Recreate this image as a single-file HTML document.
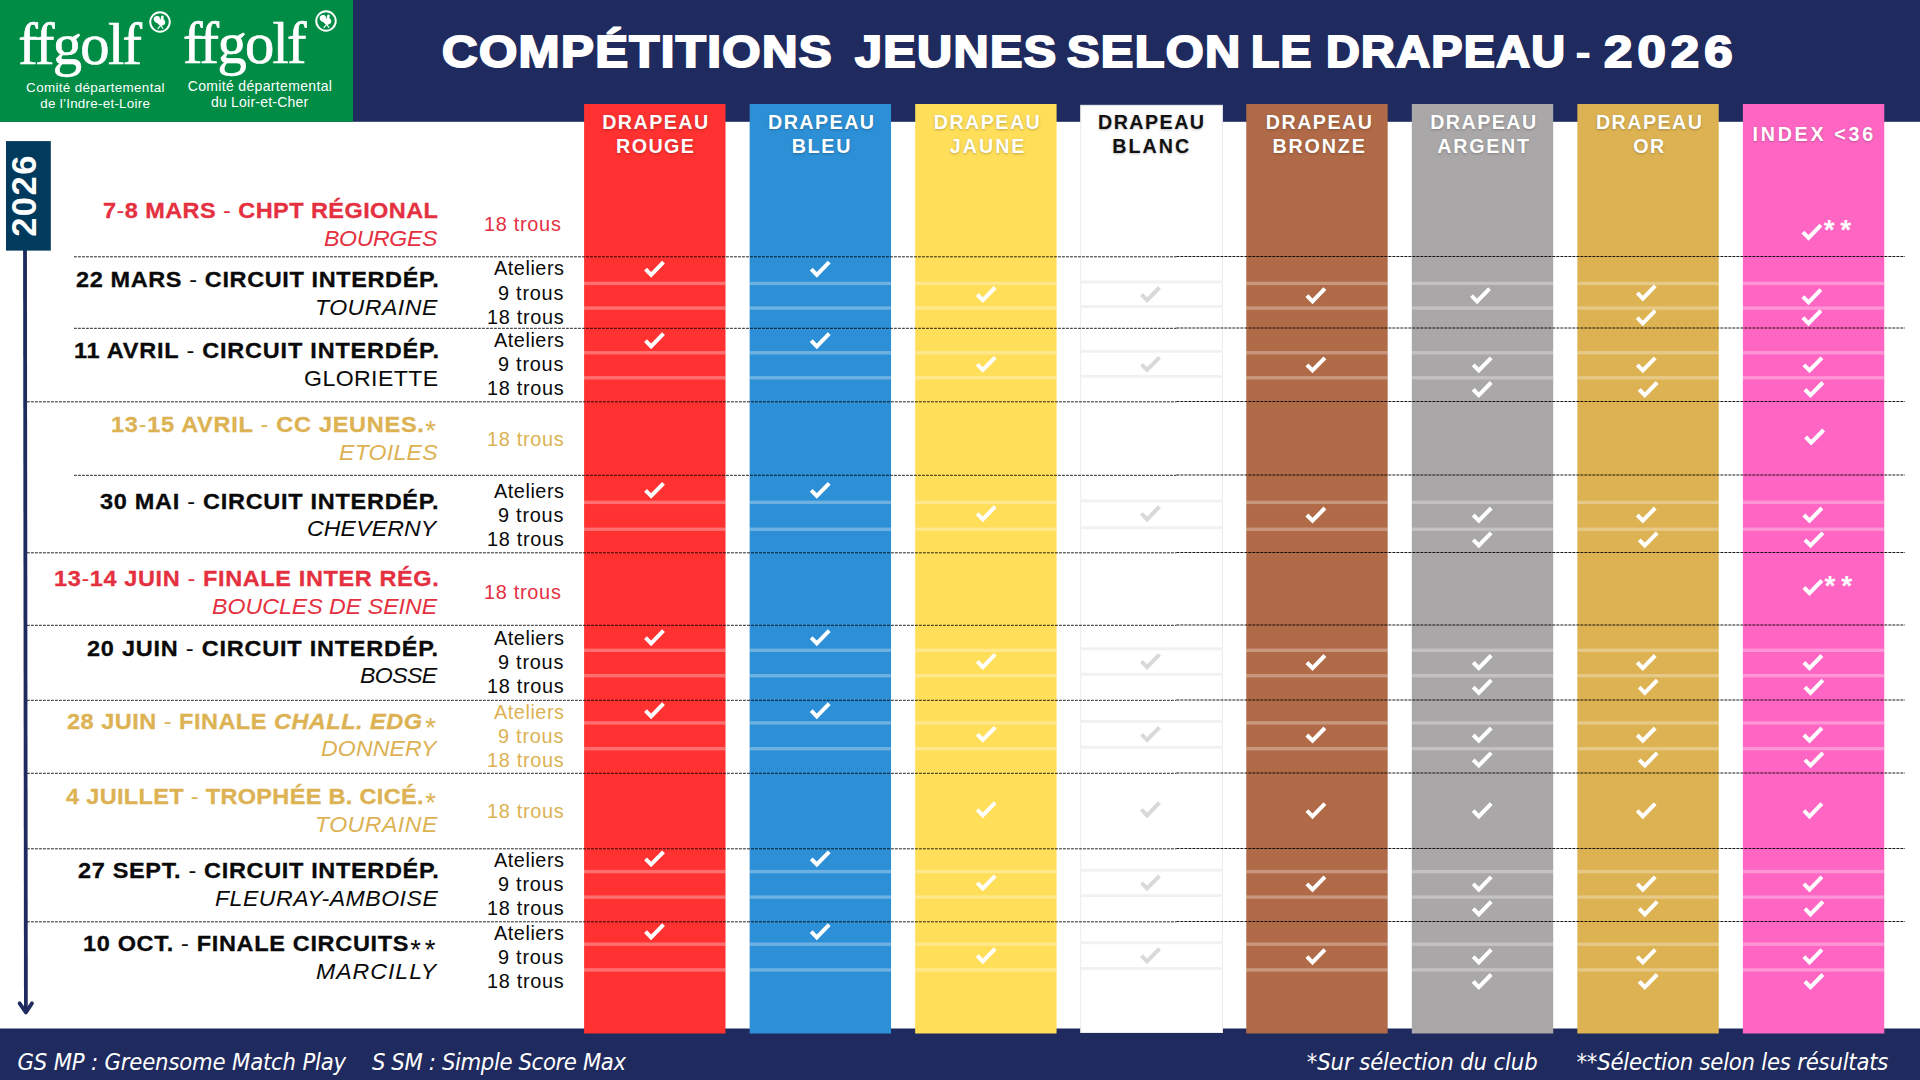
<!DOCTYPE html>
<html lang="fr"><head><meta charset="utf-8"><title>Compétitions jeunes selon le drapeau - 2026</title>
<style>
html,body{margin:0;padding:0;background:#fff;}
body{width:1920px;height:1080px;position:relative;overflow:hidden;font-family:"Liberation Sans",sans-serif;}
.t{position:absolute;white-space:nowrap;line-height:1;transform-origin:0 50%;}
.abs{position:absolute;}
.th{font-weight:400;-webkit-text-stroke:0;}
.col{position:absolute;top:104px;height:929.5px;width:141.4px;}
.hl{position:absolute;height:3.4px;left:0;right:0;background:rgba(255,255,255,0.30);}
.hd{text-shadow:0 1px 2.5px rgba(0,0,0,0.25);}
</style></head><body>

<svg class="abs" style="left:0;top:0" width="1920" height="1080" viewBox="0 0 1920 1080">
<rect x="0" y="0" width="1920" height="121.8" fill="#1f2a5e"/>
<rect x="0" y="0" width="353" height="121.8" fill="#008c45"/>
<rect x="0" y="1028.5" width="1920" height="52" fill="#1f2a5e"/>
<rect x="584.10" y="104" width="141.4" height="929.5" fill="#ff3131"/>
<rect x="584.10" y="281.70" width="141.4" height="3.4" fill="#fff" fill-opacity="0.30"/>
<rect x="584.10" y="306.40" width="141.4" height="3.4" fill="#fff" fill-opacity="0.30"/>
<rect x="584.10" y="351.05" width="141.4" height="3.4" fill="#fff" fill-opacity="0.30"/>
<rect x="584.10" y="376.10" width="141.4" height="3.4" fill="#fff" fill-opacity="0.30"/>
<rect x="584.10" y="500.65" width="141.4" height="3.4" fill="#fff" fill-opacity="0.30"/>
<rect x="584.10" y="527.55" width="141.4" height="3.4" fill="#fff" fill-opacity="0.30"/>
<rect x="584.10" y="648.60" width="141.4" height="3.4" fill="#fff" fill-opacity="0.30"/>
<rect x="584.10" y="674.00" width="141.4" height="3.4" fill="#fff" fill-opacity="0.30"/>
<rect x="584.10" y="721.20" width="141.4" height="3.4" fill="#fff" fill-opacity="0.30"/>
<rect x="584.10" y="747.00" width="141.4" height="3.4" fill="#fff" fill-opacity="0.30"/>
<rect x="584.10" y="869.90" width="141.4" height="3.4" fill="#fff" fill-opacity="0.30"/>
<rect x="584.10" y="895.40" width="141.4" height="3.4" fill="#fff" fill-opacity="0.30"/>
<rect x="584.10" y="942.50" width="141.4" height="3.4" fill="#fff" fill-opacity="0.30"/>
<rect x="584.10" y="968.20" width="141.4" height="3.4" fill="#fff" fill-opacity="0.30"/>
<rect x="749.64" y="104" width="141.4" height="929.5" fill="#2d90d6"/>
<rect x="749.64" y="281.70" width="141.4" height="3.4" fill="#fff" fill-opacity="0.30"/>
<rect x="749.64" y="306.40" width="141.4" height="3.4" fill="#fff" fill-opacity="0.30"/>
<rect x="749.64" y="351.05" width="141.4" height="3.4" fill="#fff" fill-opacity="0.30"/>
<rect x="749.64" y="376.10" width="141.4" height="3.4" fill="#fff" fill-opacity="0.30"/>
<rect x="749.64" y="500.65" width="141.4" height="3.4" fill="#fff" fill-opacity="0.30"/>
<rect x="749.64" y="527.55" width="141.4" height="3.4" fill="#fff" fill-opacity="0.30"/>
<rect x="749.64" y="648.60" width="141.4" height="3.4" fill="#fff" fill-opacity="0.30"/>
<rect x="749.64" y="674.00" width="141.4" height="3.4" fill="#fff" fill-opacity="0.30"/>
<rect x="749.64" y="721.20" width="141.4" height="3.4" fill="#fff" fill-opacity="0.30"/>
<rect x="749.64" y="747.00" width="141.4" height="3.4" fill="#fff" fill-opacity="0.30"/>
<rect x="749.64" y="869.90" width="141.4" height="3.4" fill="#fff" fill-opacity="0.30"/>
<rect x="749.64" y="895.40" width="141.4" height="3.4" fill="#fff" fill-opacity="0.30"/>
<rect x="749.64" y="942.50" width="141.4" height="3.4" fill="#fff" fill-opacity="0.30"/>
<rect x="749.64" y="968.20" width="141.4" height="3.4" fill="#fff" fill-opacity="0.30"/>
<rect x="915.18" y="104" width="141.4" height="929.5" fill="#ffde59"/>
<rect x="915.18" y="281.70" width="141.4" height="3.4" fill="#fff" fill-opacity="0.30"/>
<rect x="915.18" y="306.40" width="141.4" height="3.4" fill="#fff" fill-opacity="0.30"/>
<rect x="915.18" y="351.05" width="141.4" height="3.4" fill="#fff" fill-opacity="0.30"/>
<rect x="915.18" y="376.10" width="141.4" height="3.4" fill="#fff" fill-opacity="0.30"/>
<rect x="915.18" y="500.65" width="141.4" height="3.4" fill="#fff" fill-opacity="0.30"/>
<rect x="915.18" y="527.55" width="141.4" height="3.4" fill="#fff" fill-opacity="0.30"/>
<rect x="915.18" y="648.60" width="141.4" height="3.4" fill="#fff" fill-opacity="0.30"/>
<rect x="915.18" y="674.00" width="141.4" height="3.4" fill="#fff" fill-opacity="0.30"/>
<rect x="915.18" y="721.20" width="141.4" height="3.4" fill="#fff" fill-opacity="0.30"/>
<rect x="915.18" y="747.00" width="141.4" height="3.4" fill="#fff" fill-opacity="0.30"/>
<rect x="915.18" y="869.90" width="141.4" height="3.4" fill="#fff" fill-opacity="0.30"/>
<rect x="915.18" y="895.40" width="141.4" height="3.4" fill="#fff" fill-opacity="0.30"/>
<rect x="915.18" y="942.50" width="141.4" height="3.4" fill="#fff" fill-opacity="0.30"/>
<rect x="915.18" y="968.20" width="141.4" height="3.4" fill="#fff" fill-opacity="0.30"/>
<rect x="1080.7" y="105.3" width="141.7" height="927.2" fill="#fff" stroke="#ececec" stroke-width="1"/>
<rect x="1080.4" y="280.50" width="142.3" height="2.9" fill="#f1f1f1"/>
<rect x="1080.4" y="305.20" width="142.3" height="2.9" fill="#f1f1f1"/>
<rect x="1080.4" y="349.85" width="142.3" height="2.9" fill="#f1f1f1"/>
<rect x="1080.4" y="374.90" width="142.3" height="2.9" fill="#f1f1f1"/>
<rect x="1080.4" y="499.45" width="142.3" height="2.9" fill="#f1f1f1"/>
<rect x="1080.4" y="526.35" width="142.3" height="2.9" fill="#f1f1f1"/>
<rect x="1080.4" y="647.40" width="142.3" height="2.9" fill="#f1f1f1"/>
<rect x="1080.4" y="672.80" width="142.3" height="2.9" fill="#f1f1f1"/>
<rect x="1080.4" y="720.00" width="142.3" height="2.9" fill="#f1f1f1"/>
<rect x="1080.4" y="745.80" width="142.3" height="2.9" fill="#f1f1f1"/>
<rect x="1080.4" y="868.70" width="142.3" height="2.9" fill="#f1f1f1"/>
<rect x="1080.4" y="894.20" width="142.3" height="2.9" fill="#f1f1f1"/>
<rect x="1080.4" y="941.30" width="142.3" height="2.9" fill="#f1f1f1"/>
<rect x="1080.4" y="967.00" width="142.3" height="2.9" fill="#f1f1f1"/>
<rect x="1246.26" y="104" width="141.4" height="929.5" fill="#b06a47"/>
<rect x="1246.26" y="281.70" width="141.4" height="3.4" fill="#fff" fill-opacity="0.30"/>
<rect x="1246.26" y="306.40" width="141.4" height="3.4" fill="#fff" fill-opacity="0.30"/>
<rect x="1246.26" y="351.05" width="141.4" height="3.4" fill="#fff" fill-opacity="0.30"/>
<rect x="1246.26" y="376.10" width="141.4" height="3.4" fill="#fff" fill-opacity="0.30"/>
<rect x="1246.26" y="500.65" width="141.4" height="3.4" fill="#fff" fill-opacity="0.30"/>
<rect x="1246.26" y="527.55" width="141.4" height="3.4" fill="#fff" fill-opacity="0.30"/>
<rect x="1246.26" y="648.60" width="141.4" height="3.4" fill="#fff" fill-opacity="0.30"/>
<rect x="1246.26" y="674.00" width="141.4" height="3.4" fill="#fff" fill-opacity="0.30"/>
<rect x="1246.26" y="721.20" width="141.4" height="3.4" fill="#fff" fill-opacity="0.30"/>
<rect x="1246.26" y="747.00" width="141.4" height="3.4" fill="#fff" fill-opacity="0.30"/>
<rect x="1246.26" y="869.90" width="141.4" height="3.4" fill="#fff" fill-opacity="0.30"/>
<rect x="1246.26" y="895.40" width="141.4" height="3.4" fill="#fff" fill-opacity="0.30"/>
<rect x="1246.26" y="942.50" width="141.4" height="3.4" fill="#fff" fill-opacity="0.30"/>
<rect x="1246.26" y="968.20" width="141.4" height="3.4" fill="#fff" fill-opacity="0.30"/>
<rect x="1411.80" y="104" width="141.4" height="929.5" fill="#a9a7a8"/>
<rect x="1411.80" y="281.70" width="141.4" height="3.4" fill="#fff" fill-opacity="0.30"/>
<rect x="1411.80" y="306.40" width="141.4" height="3.4" fill="#fff" fill-opacity="0.30"/>
<rect x="1411.80" y="351.05" width="141.4" height="3.4" fill="#fff" fill-opacity="0.30"/>
<rect x="1411.80" y="376.10" width="141.4" height="3.4" fill="#fff" fill-opacity="0.30"/>
<rect x="1411.80" y="500.65" width="141.4" height="3.4" fill="#fff" fill-opacity="0.30"/>
<rect x="1411.80" y="527.55" width="141.4" height="3.4" fill="#fff" fill-opacity="0.30"/>
<rect x="1411.80" y="648.60" width="141.4" height="3.4" fill="#fff" fill-opacity="0.30"/>
<rect x="1411.80" y="674.00" width="141.4" height="3.4" fill="#fff" fill-opacity="0.30"/>
<rect x="1411.80" y="721.20" width="141.4" height="3.4" fill="#fff" fill-opacity="0.30"/>
<rect x="1411.80" y="747.00" width="141.4" height="3.4" fill="#fff" fill-opacity="0.30"/>
<rect x="1411.80" y="869.90" width="141.4" height="3.4" fill="#fff" fill-opacity="0.30"/>
<rect x="1411.80" y="895.40" width="141.4" height="3.4" fill="#fff" fill-opacity="0.30"/>
<rect x="1411.80" y="942.50" width="141.4" height="3.4" fill="#fff" fill-opacity="0.30"/>
<rect x="1411.80" y="968.20" width="141.4" height="3.4" fill="#fff" fill-opacity="0.30"/>
<rect x="1577.34" y="104" width="141.4" height="929.5" fill="#dcb253"/>
<rect x="1577.34" y="281.70" width="141.4" height="3.4" fill="#fff" fill-opacity="0.30"/>
<rect x="1577.34" y="306.40" width="141.4" height="3.4" fill="#fff" fill-opacity="0.30"/>
<rect x="1577.34" y="351.05" width="141.4" height="3.4" fill="#fff" fill-opacity="0.30"/>
<rect x="1577.34" y="376.10" width="141.4" height="3.4" fill="#fff" fill-opacity="0.30"/>
<rect x="1577.34" y="500.65" width="141.4" height="3.4" fill="#fff" fill-opacity="0.30"/>
<rect x="1577.34" y="527.55" width="141.4" height="3.4" fill="#fff" fill-opacity="0.30"/>
<rect x="1577.34" y="648.60" width="141.4" height="3.4" fill="#fff" fill-opacity="0.30"/>
<rect x="1577.34" y="674.00" width="141.4" height="3.4" fill="#fff" fill-opacity="0.30"/>
<rect x="1577.34" y="721.20" width="141.4" height="3.4" fill="#fff" fill-opacity="0.30"/>
<rect x="1577.34" y="747.00" width="141.4" height="3.4" fill="#fff" fill-opacity="0.30"/>
<rect x="1577.34" y="869.90" width="141.4" height="3.4" fill="#fff" fill-opacity="0.30"/>
<rect x="1577.34" y="895.40" width="141.4" height="3.4" fill="#fff" fill-opacity="0.30"/>
<rect x="1577.34" y="942.50" width="141.4" height="3.4" fill="#fff" fill-opacity="0.30"/>
<rect x="1577.34" y="968.20" width="141.4" height="3.4" fill="#fff" fill-opacity="0.30"/>
<rect x="1742.88" y="104" width="141.4" height="929.5" fill="#ff66c4"/>
<rect x="1742.88" y="281.70" width="141.4" height="3.4" fill="#fff" fill-opacity="0.30"/>
<rect x="1742.88" y="306.40" width="141.4" height="3.4" fill="#fff" fill-opacity="0.30"/>
<rect x="1742.88" y="351.05" width="141.4" height="3.4" fill="#fff" fill-opacity="0.30"/>
<rect x="1742.88" y="376.10" width="141.4" height="3.4" fill="#fff" fill-opacity="0.30"/>
<rect x="1742.88" y="500.65" width="141.4" height="3.4" fill="#fff" fill-opacity="0.30"/>
<rect x="1742.88" y="527.55" width="141.4" height="3.4" fill="#fff" fill-opacity="0.30"/>
<rect x="1742.88" y="648.60" width="141.4" height="3.4" fill="#fff" fill-opacity="0.30"/>
<rect x="1742.88" y="674.00" width="141.4" height="3.4" fill="#fff" fill-opacity="0.30"/>
<rect x="1742.88" y="721.20" width="141.4" height="3.4" fill="#fff" fill-opacity="0.30"/>
<rect x="1742.88" y="747.00" width="141.4" height="3.4" fill="#fff" fill-opacity="0.30"/>
<rect x="1742.88" y="869.90" width="141.4" height="3.4" fill="#fff" fill-opacity="0.30"/>
<rect x="1742.88" y="895.40" width="141.4" height="3.4" fill="#fff" fill-opacity="0.30"/>
<rect x="1742.88" y="942.50" width="141.4" height="3.4" fill="#fff" fill-opacity="0.30"/>
<rect x="1742.88" y="968.20" width="141.4" height="3.4" fill="#fff" fill-opacity="0.30"/>
<line x1="74" y1="256.8" x2="1176.4" y2="256.8" stroke="#000" stroke-opacity="0.85" stroke-width="1" stroke-dasharray="2.9 1.1"/>
<line x1="1176.4" y1="256.5" x2="1905" y2="256.5" stroke="#000" stroke-opacity="0.9" stroke-width="1" stroke-dasharray="2.9 1.1"/>
<line x1="74" y1="328.3" x2="1176.4" y2="328.3" stroke="#000" stroke-opacity="0.85" stroke-width="1" stroke-dasharray="2.9 1.1"/>
<line x1="1176.4" y1="328.0" x2="1905" y2="328.0" stroke="#000" stroke-opacity="0.9" stroke-width="1" stroke-dasharray="2.9 1.1"/>
<line x1="27" y1="401.8" x2="1176.4" y2="401.8" stroke="#000" stroke-opacity="0.85" stroke-width="1" stroke-dasharray="2.9 1.1"/>
<line x1="1176.4" y1="401.5" x2="1905" y2="401.5" stroke="#000" stroke-opacity="0.9" stroke-width="1" stroke-dasharray="2.9 1.1"/>
<line x1="74" y1="475.3" x2="1176.4" y2="475.3" stroke="#000" stroke-opacity="0.85" stroke-width="1" stroke-dasharray="2.9 1.1"/>
<line x1="1176.4" y1="475.0" x2="1905" y2="475.0" stroke="#000" stroke-opacity="0.9" stroke-width="1" stroke-dasharray="2.9 1.1"/>
<line x1="27" y1="552.8" x2="1176.4" y2="552.8" stroke="#000" stroke-opacity="0.85" stroke-width="1" stroke-dasharray="2.9 1.1"/>
<line x1="1176.4" y1="552.5" x2="1905" y2="552.5" stroke="#000" stroke-opacity="0.9" stroke-width="1" stroke-dasharray="2.9 1.1"/>
<line x1="27" y1="625.3" x2="1176.4" y2="625.3" stroke="#000" stroke-opacity="0.85" stroke-width="1" stroke-dasharray="2.9 1.1"/>
<line x1="1176.4" y1="625.0" x2="1905" y2="625.0" stroke="#000" stroke-opacity="0.9" stroke-width="1" stroke-dasharray="2.9 1.1"/>
<line x1="27" y1="700.3" x2="1176.4" y2="700.3" stroke="#000" stroke-opacity="0.85" stroke-width="1" stroke-dasharray="2.9 1.1"/>
<line x1="1176.4" y1="700.0" x2="1905" y2="700.0" stroke="#000" stroke-opacity="0.9" stroke-width="1" stroke-dasharray="2.9 1.1"/>
<line x1="27" y1="773.3" x2="1176.4" y2="773.3" stroke="#000" stroke-opacity="0.85" stroke-width="1" stroke-dasharray="2.9 1.1"/>
<line x1="1176.4" y1="773.0" x2="1905" y2="773.0" stroke="#000" stroke-opacity="0.9" stroke-width="1" stroke-dasharray="2.9 1.1"/>
<line x1="27" y1="848.8" x2="1176.4" y2="848.8" stroke="#000" stroke-opacity="0.85" stroke-width="1" stroke-dasharray="2.9 1.1"/>
<line x1="1176.4" y1="848.5" x2="1905" y2="848.5" stroke="#000" stroke-opacity="0.9" stroke-width="1" stroke-dasharray="2.9 1.1"/>
<line x1="27" y1="921.8" x2="1176.4" y2="921.8" stroke="#000" stroke-opacity="0.85" stroke-width="1" stroke-dasharray="2.9 1.1"/>
<line x1="1176.4" y1="921.5" x2="1905" y2="921.5" stroke="#000" stroke-opacity="0.9" stroke-width="1" stroke-dasharray="2.9 1.1"/>
<line x1="25" y1="250" x2="25.9" y2="1012" stroke="#1f2a5e" stroke-width="3.8"/>
<polyline points="19.6,1003.3 25.9,1012.4 32,1003.3" fill="none" stroke="#1f2a5e" stroke-width="3.8" stroke-linecap="round" stroke-linejoin="round"/>
<rect x="6" y="141.1" width="44.8" height="109.5" fill="#003a5d"/>
<polyline transform="translate(643.51,260.21)" points="2,8.9 7.6,14.6 20,1.9" fill="none" stroke="#fff" stroke-width="4"/>
<polyline transform="translate(809.21,260.21)" points="2,8.9 7.6,14.6 20,1.9" fill="none" stroke="#fff" stroke-width="4"/>
<polyline transform="translate(975.21,285.61)" points="2,8.9 7.6,14.6 20,1.9" fill="none" stroke="#fff" stroke-width="4"/>
<polyline transform="translate(1139.51,285.61)" points="2,8.9 7.6,14.6 20,1.9" fill="none" stroke="#d9d9d9" stroke-width="4"/>
<polyline transform="translate(1304.91,286.81)" points="2,8.9 7.6,14.6 20,1.9" fill="none" stroke="#fff" stroke-width="4"/>
<polyline transform="translate(1469.51,286.81)" points="2,8.9 7.6,14.6 20,1.9" fill="none" stroke="#fff" stroke-width="4"/>
<polyline transform="translate(1635.21,284.01)" points="2,8.9 7.6,14.6 20,1.9" fill="none" stroke="#fff" stroke-width="4"/>
<polyline transform="translate(1635.21,308.81)" points="2,8.9 7.6,14.6 20,1.9" fill="none" stroke="#fff" stroke-width="4"/>
<polyline transform="translate(1800.91,287.81)" points="2,8.9 7.6,14.6 20,1.9" fill="none" stroke="#fff" stroke-width="4"/>
<polyline transform="translate(1800.91,308.81)" points="2,8.9 7.6,14.6 20,1.9" fill="none" stroke="#fff" stroke-width="4"/>
<polyline transform="translate(643.51,331.71)" points="2,8.9 7.6,14.6 20,1.9" fill="none" stroke="#fff" stroke-width="4"/>
<polyline transform="translate(809.21,331.71)" points="2,8.9 7.6,14.6 20,1.9" fill="none" stroke="#fff" stroke-width="4"/>
<polyline transform="translate(975.21,355.41)" points="2,8.9 7.6,14.6 20,1.9" fill="none" stroke="#fff" stroke-width="4"/>
<polyline transform="translate(1139.51,355.41)" points="2,8.9 7.6,14.6 20,1.9" fill="none" stroke="#d9d9d9" stroke-width="4"/>
<polyline transform="translate(1304.91,355.91)" points="2,8.9 7.6,14.6 20,1.9" fill="none" stroke="#fff" stroke-width="4"/>
<polyline transform="translate(1471.21,355.91)" points="2,8.9 7.6,14.6 20,1.9" fill="none" stroke="#fff" stroke-width="4"/>
<polyline transform="translate(1471.21,380.61)" points="2,8.9 7.6,14.6 20,1.9" fill="none" stroke="#fff" stroke-width="4"/>
<polyline transform="translate(1635.21,355.91)" points="2,8.9 7.6,14.6 20,1.9" fill="none" stroke="#fff" stroke-width="4"/>
<polyline transform="translate(1637.21,380.61)" points="2,8.9 7.6,14.6 20,1.9" fill="none" stroke="#fff" stroke-width="4"/>
<polyline transform="translate(1801.91,355.91)" points="2,8.9 7.6,14.6 20,1.9" fill="none" stroke="#fff" stroke-width="4"/>
<polyline transform="translate(1802.91,380.61)" points="2,8.9 7.6,14.6 20,1.9" fill="none" stroke="#fff" stroke-width="4"/>
<polyline transform="translate(643.51,481.41)" points="2,8.9 7.6,14.6 20,1.9" fill="none" stroke="#fff" stroke-width="4"/>
<polyline transform="translate(809.21,481.41)" points="2,8.9 7.6,14.6 20,1.9" fill="none" stroke="#fff" stroke-width="4"/>
<polyline transform="translate(975.21,504.71)" points="2,8.9 7.6,14.6 20,1.9" fill="none" stroke="#fff" stroke-width="4"/>
<polyline transform="translate(1139.51,504.71)" points="2,8.9 7.6,14.6 20,1.9" fill="none" stroke="#d9d9d9" stroke-width="4"/>
<polyline transform="translate(1304.91,506.11)" points="2,8.9 7.6,14.6 20,1.9" fill="none" stroke="#fff" stroke-width="4"/>
<polyline transform="translate(1471.21,506.11)" points="2,8.9 7.6,14.6 20,1.9" fill="none" stroke="#fff" stroke-width="4"/>
<polyline transform="translate(1471.21,530.91)" points="2,8.9 7.6,14.6 20,1.9" fill="none" stroke="#fff" stroke-width="4"/>
<polyline transform="translate(1635.21,506.11)" points="2,8.9 7.6,14.6 20,1.9" fill="none" stroke="#fff" stroke-width="4"/>
<polyline transform="translate(1637.21,530.91)" points="2,8.9 7.6,14.6 20,1.9" fill="none" stroke="#fff" stroke-width="4"/>
<polyline transform="translate(1801.91,506.11)" points="2,8.9 7.6,14.6 20,1.9" fill="none" stroke="#fff" stroke-width="4"/>
<polyline transform="translate(1802.91,530.91)" points="2,8.9 7.6,14.6 20,1.9" fill="none" stroke="#fff" stroke-width="4"/>
<polyline transform="translate(643.51,628.81)" points="2,8.9 7.6,14.6 20,1.9" fill="none" stroke="#fff" stroke-width="4"/>
<polyline transform="translate(809.21,628.81)" points="2,8.9 7.6,14.6 20,1.9" fill="none" stroke="#fff" stroke-width="4"/>
<polyline transform="translate(975.21,652.51)" points="2,8.9 7.6,14.6 20,1.9" fill="none" stroke="#fff" stroke-width="4"/>
<polyline transform="translate(1139.51,652.51)" points="2,8.9 7.6,14.6 20,1.9" fill="none" stroke="#d9d9d9" stroke-width="4"/>
<polyline transform="translate(1304.91,653.61)" points="2,8.9 7.6,14.6 20,1.9" fill="none" stroke="#fff" stroke-width="4"/>
<polyline transform="translate(1471.21,653.61)" points="2,8.9 7.6,14.6 20,1.9" fill="none" stroke="#fff" stroke-width="4"/>
<polyline transform="translate(1471.21,678.31)" points="2,8.9 7.6,14.6 20,1.9" fill="none" stroke="#fff" stroke-width="4"/>
<polyline transform="translate(1635.21,653.61)" points="2,8.9 7.6,14.6 20,1.9" fill="none" stroke="#fff" stroke-width="4"/>
<polyline transform="translate(1637.21,678.31)" points="2,8.9 7.6,14.6 20,1.9" fill="none" stroke="#fff" stroke-width="4"/>
<polyline transform="translate(1801.91,653.61)" points="2,8.9 7.6,14.6 20,1.9" fill="none" stroke="#fff" stroke-width="4"/>
<polyline transform="translate(1802.91,678.31)" points="2,8.9 7.6,14.6 20,1.9" fill="none" stroke="#fff" stroke-width="4"/>
<polyline transform="translate(643.51,701.71)" points="2,8.9 7.6,14.6 20,1.9" fill="none" stroke="#fff" stroke-width="4"/>
<polyline transform="translate(809.21,701.71)" points="2,8.9 7.6,14.6 20,1.9" fill="none" stroke="#fff" stroke-width="4"/>
<polyline transform="translate(975.21,725.41)" points="2,8.9 7.6,14.6 20,1.9" fill="none" stroke="#fff" stroke-width="4"/>
<polyline transform="translate(1139.51,725.41)" points="2,8.9 7.6,14.6 20,1.9" fill="none" stroke="#d9d9d9" stroke-width="4"/>
<polyline transform="translate(1304.91,726.11)" points="2,8.9 7.6,14.6 20,1.9" fill="none" stroke="#fff" stroke-width="4"/>
<polyline transform="translate(1471.21,726.11)" points="2,8.9 7.6,14.6 20,1.9" fill="none" stroke="#fff" stroke-width="4"/>
<polyline transform="translate(1471.21,750.91)" points="2,8.9 7.6,14.6 20,1.9" fill="none" stroke="#fff" stroke-width="4"/>
<polyline transform="translate(1635.21,726.11)" points="2,8.9 7.6,14.6 20,1.9" fill="none" stroke="#fff" stroke-width="4"/>
<polyline transform="translate(1637.21,750.91)" points="2,8.9 7.6,14.6 20,1.9" fill="none" stroke="#fff" stroke-width="4"/>
<polyline transform="translate(1801.91,726.11)" points="2,8.9 7.6,14.6 20,1.9" fill="none" stroke="#fff" stroke-width="4"/>
<polyline transform="translate(1802.91,750.91)" points="2,8.9 7.6,14.6 20,1.9" fill="none" stroke="#fff" stroke-width="4"/>
<polyline transform="translate(643.51,849.91)" points="2,8.9 7.6,14.6 20,1.9" fill="none" stroke="#fff" stroke-width="4"/>
<polyline transform="translate(809.21,849.91)" points="2,8.9 7.6,14.6 20,1.9" fill="none" stroke="#fff" stroke-width="4"/>
<polyline transform="translate(975.21,873.91)" points="2,8.9 7.6,14.6 20,1.9" fill="none" stroke="#fff" stroke-width="4"/>
<polyline transform="translate(1139.51,873.91)" points="2,8.9 7.6,14.6 20,1.9" fill="none" stroke="#d9d9d9" stroke-width="4"/>
<polyline transform="translate(1304.91,875.01)" points="2,8.9 7.6,14.6 20,1.9" fill="none" stroke="#fff" stroke-width="4"/>
<polyline transform="translate(1471.21,875.01)" points="2,8.9 7.6,14.6 20,1.9" fill="none" stroke="#fff" stroke-width="4"/>
<polyline transform="translate(1471.21,899.71)" points="2,8.9 7.6,14.6 20,1.9" fill="none" stroke="#fff" stroke-width="4"/>
<polyline transform="translate(1635.21,875.01)" points="2,8.9 7.6,14.6 20,1.9" fill="none" stroke="#fff" stroke-width="4"/>
<polyline transform="translate(1637.21,899.71)" points="2,8.9 7.6,14.6 20,1.9" fill="none" stroke="#fff" stroke-width="4"/>
<polyline transform="translate(1801.91,875.01)" points="2,8.9 7.6,14.6 20,1.9" fill="none" stroke="#fff" stroke-width="4"/>
<polyline transform="translate(1802.91,899.71)" points="2,8.9 7.6,14.6 20,1.9" fill="none" stroke="#fff" stroke-width="4"/>
<polyline transform="translate(643.51,922.71)" points="2,8.9 7.6,14.6 20,1.9" fill="none" stroke="#fff" stroke-width="4"/>
<polyline transform="translate(809.21,922.71)" points="2,8.9 7.6,14.6 20,1.9" fill="none" stroke="#fff" stroke-width="4"/>
<polyline transform="translate(975.21,946.81)" points="2,8.9 7.6,14.6 20,1.9" fill="none" stroke="#fff" stroke-width="4"/>
<polyline transform="translate(1139.51,946.81)" points="2,8.9 7.6,14.6 20,1.9" fill="none" stroke="#d9d9d9" stroke-width="4"/>
<polyline transform="translate(1304.91,947.81)" points="2,8.9 7.6,14.6 20,1.9" fill="none" stroke="#fff" stroke-width="4"/>
<polyline transform="translate(1471.21,947.81)" points="2,8.9 7.6,14.6 20,1.9" fill="none" stroke="#fff" stroke-width="4"/>
<polyline transform="translate(1471.21,972.61)" points="2,8.9 7.6,14.6 20,1.9" fill="none" stroke="#fff" stroke-width="4"/>
<polyline transform="translate(1635.21,947.81)" points="2,8.9 7.6,14.6 20,1.9" fill="none" stroke="#fff" stroke-width="4"/>
<polyline transform="translate(1637.21,972.61)" points="2,8.9 7.6,14.6 20,1.9" fill="none" stroke="#fff" stroke-width="4"/>
<polyline transform="translate(1801.91,947.81)" points="2,8.9 7.6,14.6 20,1.9" fill="none" stroke="#fff" stroke-width="4"/>
<polyline transform="translate(1802.91,972.61)" points="2,8.9 7.6,14.6 20,1.9" fill="none" stroke="#fff" stroke-width="4"/>
<polyline transform="translate(1800.91,223.21)" points="2,8.9 7.6,14.6 20,1.9" fill="none" stroke="#fff" stroke-width="4"/>
<polyline transform="translate(1803.61,428.11)" points="2,8.9 7.6,14.6 20,1.9" fill="none" stroke="#fff" stroke-width="4"/>
<polyline transform="translate(1801.91,578.61)" points="2,8.9 7.6,14.6 20,1.9" fill="none" stroke="#fff" stroke-width="4"/>
<polyline transform="translate(975.21,800.71)" points="2,8.9 7.6,14.6 20,1.9" fill="none" stroke="#fff" stroke-width="4"/>
<polyline transform="translate(1139.51,800.71)" points="2,8.9 7.6,14.6 20,1.9" fill="none" stroke="#d9d9d9" stroke-width="4"/>
<polyline transform="translate(1304.91,801.71)" points="2,8.9 7.6,14.6 20,1.9" fill="none" stroke="#fff" stroke-width="4"/>
<polyline transform="translate(1471.21,801.71)" points="2,8.9 7.6,14.6 20,1.9" fill="none" stroke="#fff" stroke-width="4"/>
<polyline transform="translate(1635.21,801.71)" points="2,8.9 7.6,14.6 20,1.9" fill="none" stroke="#fff" stroke-width="4"/>
<polyline transform="translate(1801.91,801.71)" points="2,8.9 7.6,14.6 20,1.9" fill="none" stroke="#fff" stroke-width="4"/>
</svg>
<div class="t" style="left:0;top:0;transform-origin:0 0;transform:translate(36.3px,236.8px) rotate(-90deg) translate(0,-29.20px);font-size:34.5px;font-weight:700;color:#fff;letter-spacing:1.46px">2026</div>
<div class="t " style="left:441.98px;top:31.00px;font-size:43.6px;letter-spacing:1.200px;color:#fff;font-weight:700;transform:scaleX(1.1295);-webkit-text-stroke:2px #fff;">COMPÉTITIONS</div>
<div class="t " style="left:855.26px;top:31.00px;font-size:43.6px;letter-spacing:1.201px;color:#fff;font-weight:700;transform:scaleX(1.1145);-webkit-text-stroke:2px #fff;">JEUNES</div>
<div class="t " style="left:1066.90px;top:31.00px;font-size:43.6px;letter-spacing:1.201px;color:#fff;font-weight:700;transform:scaleX(1.118);-webkit-text-stroke:2px #fff;">SELON</div>
<div class="t " style="left:1251.10px;top:31.00px;font-size:43.6px;letter-spacing:1.201px;color:#fff;font-weight:700;transform:scaleX(1.0632);-webkit-text-stroke:2px #fff;">LE</div>
<div class="t " style="left:1325.87px;top:31.00px;font-size:43.6px;letter-spacing:1.201px;color:#fff;font-weight:700;transform:scaleX(1.0731);-webkit-text-stroke:2px #fff;">DRAPEAU</div>
<div class="t " style="left:1575.29px;top:31.00px;font-size:43.6px;letter-spacing:0.000px;color:#fff;font-weight:700;transform:scaleX(1.1201);">-</div>
<div class="t " style="left:1604.23px;top:31.00px;font-size:43.6px;letter-spacing:4.282px;color:#fff;font-weight:700;transform:scaleX(1.17);-webkit-text-stroke:2px #fff;">2026</div>
<div class="t hd" style="left:602.18px;top:113.00px;font-size:19.7px;letter-spacing:1.451px;color:#fff;font-weight:700;">DRAPEAU</div>
<div class="t hd" style="left:616.03px;top:137.00px;font-size:19.7px;letter-spacing:1.437px;color:#fff;font-weight:700;">ROUGE</div>
<div class="t hd" style="left:768.02px;top:113.00px;font-size:19.7px;letter-spacing:1.451px;color:#fff;font-weight:700;">DRAPEAU</div>
<div class="t hd" style="left:791.67px;top:137.00px;font-size:19.7px;letter-spacing:1.731px;color:#fff;font-weight:700;">BLEU</div>
<div class="t hd" style="left:933.76px;top:113.00px;font-size:19.7px;letter-spacing:1.451px;color:#fff;font-weight:700;">DRAPEAU</div>
<div class="t hd" style="left:949.68px;top:137.00px;font-size:19.7px;letter-spacing:2.023px;color:#fff;font-weight:700;">JAUNE</div>
<div class="t hd" style="left:1098.00px;top:113.00px;font-size:19.7px;letter-spacing:1.451px;color:#111;font-weight:700;">DRAPEAU</div>
<div class="t hd" style="left:1112.30px;top:137.00px;font-size:19.7px;letter-spacing:1.979px;color:#111;font-weight:700;">BLANC</div>
<div class="t hd" style="left:1265.84px;top:113.00px;font-size:19.7px;letter-spacing:1.451px;color:#fff;font-weight:700;">DRAPEAU</div>
<div class="t hd" style="left:1272.44px;top:137.00px;font-size:19.7px;letter-spacing:1.862px;color:#fff;font-weight:700;">BRONZE</div>
<div class="t hd" style="left:1430.18px;top:113.00px;font-size:19.7px;letter-spacing:1.451px;color:#fff;font-weight:700;">DRAPEAU</div>
<div class="t hd" style="left:1437.21px;top:137.00px;font-size:19.7px;letter-spacing:1.745px;color:#fff;font-weight:700;">ARGENT</div>
<div class="t hd" style="left:1595.92px;top:113.00px;font-size:19.7px;letter-spacing:1.451px;color:#fff;font-weight:700;">DRAPEAU</div>
<div class="t hd" style="left:1633.33px;top:137.00px;font-size:19.7px;letter-spacing:1.462px;color:#fff;font-weight:700;">OR</div>
<div class="t hd" style="left:1752.58px;top:125.00px;font-size:19.7px;letter-spacing:2.692px;color:#fff;font-weight:700;">INDEX &lt;36</div>
<div class="t " style="left:102.59px;top:200.00px;font-size:22.6px;letter-spacing:0.413px;color:#e5303f;font-weight:700;transform:scaleX(1.04);-webkit-text-stroke:0.3px currentColor;">7<span class="th">-</span>8 MARS <span class="th">-</span> CHPT RÉGIONAL</div>
<div class="t " style="left:323.69px;top:227.00px;font-size:22.9px;letter-spacing:-0.364px;color:#e5303f;font-style:italic;transform:scaleX(1.01);">BOURGES</div>
<div class="t " style="left:483.88px;top:215.00px;font-size:19.5px;letter-spacing:0.695px;color:#e5303f;transform:scaleX(1.02);">18 trous</div>
<div class="t " style="left:75.69px;top:269.00px;font-size:22.6px;letter-spacing:0.587px;color:#0a0a0a;font-weight:700;transform:scaleX(1.04);-webkit-text-stroke:0.3px currentColor;">22 MARS <span class="th">-</span> CIRCUIT INTERDÉP.</div>
<div class="t " style="left:314.92px;top:296.00px;font-size:22.9px;letter-spacing:0.463px;color:#0a0a0a;font-style:italic;transform:scaleX(1.01);">TOURAINE</div>
<div class="t " style="left:493.76px;top:259.00px;font-size:19.5px;letter-spacing:0.523px;color:#0a0a0a;transform:scaleX(1.02);">Ateliers</div>
<div class="t " style="left:498.47px;top:284.00px;font-size:19.5px;letter-spacing:0.743px;color:#0a0a0a;transform:scaleX(1.02);">9 trous</div>
<div class="t " style="left:487.08px;top:308.00px;font-size:19.5px;letter-spacing:0.681px;color:#0a0a0a;transform:scaleX(1.02);">18 trous</div>
<div class="t " style="left:73.52px;top:340.00px;font-size:22.6px;letter-spacing:0.751px;color:#0a0a0a;font-weight:700;transform:scaleX(1.04);-webkit-text-stroke:0.3px currentColor;">11 AVRIL <span class="th">-</span> CIRCUIT INTERDÉP.</div>
<div class="t " style="left:304.24px;top:367.00px;font-size:22.9px;letter-spacing:0.393px;color:#0a0a0a;transform:scaleX(1.01);">GLORIETTE</div>
<div class="t " style="left:493.76px;top:331.00px;font-size:19.5px;letter-spacing:0.523px;color:#0a0a0a;transform:scaleX(1.02);">Ateliers</div>
<div class="t " style="left:498.47px;top:355.00px;font-size:19.5px;letter-spacing:0.743px;color:#0a0a0a;transform:scaleX(1.02);">9 trous</div>
<div class="t " style="left:487.08px;top:379.00px;font-size:19.5px;letter-spacing:0.681px;color:#0a0a0a;transform:scaleX(1.02);">18 trous</div>
<div class="t " style="left:110.52px;top:414.00px;font-size:22.6px;letter-spacing:0.704px;color:#dcb253;font-weight:700;transform:scaleX(1.04);-webkit-text-stroke:0.3px currentColor;">13<span class="th">-</span>15 AVRIL <span class="th">-</span> CC JEUNES.</div>
<div class="t " style="left:425.36px;top:417.00px;font-size:27.5px;letter-spacing:0.000px;color:#dcb253;">*</div>
<div class="t " style="left:339.09px;top:441.00px;font-size:22.9px;letter-spacing:0.229px;color:#dcb253;font-style:italic;transform:scaleX(1.01);">ETOILES</div>
<div class="t " style="left:487.08px;top:430.00px;font-size:19.5px;letter-spacing:0.681px;color:#dcb253;transform:scaleX(1.02);">18 trous</div>
<div class="t " style="left:99.86px;top:491.00px;font-size:22.6px;letter-spacing:0.686px;color:#0a0a0a;font-weight:700;transform:scaleX(1.04);-webkit-text-stroke:0.3px currentColor;">30 MAI <span class="th">-</span> CIRCUIT INTERDÉP.</div>
<div class="t " style="left:307.32px;top:517.00px;font-size:22.9px;letter-spacing:0.108px;color:#0a0a0a;font-style:italic;transform:scaleX(1.01);">CHEVERNY</div>
<div class="t " style="left:493.76px;top:482.00px;font-size:19.5px;letter-spacing:0.523px;color:#0a0a0a;transform:scaleX(1.02);">Ateliers</div>
<div class="t " style="left:498.47px;top:506.00px;font-size:19.5px;letter-spacing:0.743px;color:#0a0a0a;transform:scaleX(1.02);">9 trous</div>
<div class="t " style="left:487.08px;top:530.00px;font-size:19.5px;letter-spacing:0.681px;color:#0a0a0a;transform:scaleX(1.02);">18 trous</div>
<div class="t " style="left:53.72px;top:568.00px;font-size:22.6px;letter-spacing:0.591px;color:#e5303f;font-weight:700;transform:scaleX(1.04);-webkit-text-stroke:0.3px currentColor;">13<span class="th">-</span>14 JUIN <span class="th">-</span> FINALE INTER RÉG.</div>
<div class="t " style="left:212.49px;top:595.00px;font-size:22.9px;letter-spacing:0.024px;color:#e5303f;font-style:italic;transform:scaleX(1.01);">BOUCLES DE SEINE</div>
<div class="t " style="left:483.88px;top:583.00px;font-size:19.5px;letter-spacing:0.695px;color:#e5303f;transform:scaleX(1.02);">18 trous</div>
<div class="t " style="left:87.29px;top:638.00px;font-size:22.6px;letter-spacing:0.737px;color:#0a0a0a;font-weight:700;transform:scaleX(1.04);-webkit-text-stroke:0.3px currentColor;">20 JUIN <span class="th">-</span> CIRCUIT INTERDÉP.</div>
<div class="t " style="left:360.09px;top:664.00px;font-size:22.9px;letter-spacing:-0.619px;color:#0a0a0a;font-style:italic;transform:scaleX(1.01);">BOSSE</div>
<div class="t " style="left:493.76px;top:629.00px;font-size:19.5px;letter-spacing:0.523px;color:#0a0a0a;transform:scaleX(1.02);">Ateliers</div>
<div class="t " style="left:498.47px;top:653.00px;font-size:19.5px;letter-spacing:0.743px;color:#0a0a0a;transform:scaleX(1.02);">9 trous</div>
<div class="t " style="left:487.08px;top:677.00px;font-size:19.5px;letter-spacing:0.681px;color:#0a0a0a;transform:scaleX(1.02);">18 trous</div>
<div class="t" style="left:67.49px;top:711px;font-size:22.6px;letter-spacing:0.477px;color:#dcb253;font-weight:700;transform:scaleX(1.04);-webkit-text-stroke:0.3px currentColor;">28 JUIN <span class="th">-</span> FINALE <span style="font-style:italic">CHALL. EDG</span></div>
<div class="t " style="left:425.36px;top:714.00px;font-size:27.5px;letter-spacing:0.000px;color:#dcb253;">*</div>
<div class="t " style="left:321.09px;top:737.00px;font-size:22.9px;letter-spacing:0.119px;color:#dcb253;font-style:italic;transform:scaleX(1.01);">DONNERY</div>
<div class="t " style="left:493.76px;top:703.00px;font-size:19.5px;letter-spacing:0.523px;color:#dcb253;transform:scaleX(1.02);">Ateliers</div>
<div class="t " style="left:498.47px;top:727.00px;font-size:19.5px;letter-spacing:0.743px;color:#dcb253;transform:scaleX(1.02);">9 trous</div>
<div class="t " style="left:487.08px;top:751.00px;font-size:19.5px;letter-spacing:0.681px;color:#dcb253;transform:scaleX(1.02);">18 trous</div>
<div class="t " style="left:65.84px;top:786.00px;font-size:22.6px;letter-spacing:0.317px;color:#dcb253;font-weight:700;transform:scaleX(1.04);-webkit-text-stroke:0.3px currentColor;">4 JUILLET <span class="th">-</span> TROPHÉE B. CICÉ.</div>
<div class="t " style="left:425.36px;top:789.00px;font-size:27.5px;letter-spacing:0.000px;color:#dcb253;">*</div>
<div class="t " style="left:314.92px;top:813.00px;font-size:22.9px;letter-spacing:0.463px;color:#dcb253;font-style:italic;transform:scaleX(1.01);">TOURAINE</div>
<div class="t " style="left:487.08px;top:802.00px;font-size:19.5px;letter-spacing:0.681px;color:#dcb253;transform:scaleX(1.02);">18 trous</div>
<div class="t " style="left:77.69px;top:860.00px;font-size:22.6px;letter-spacing:0.633px;color:#0a0a0a;font-weight:700;transform:scaleX(1.04);-webkit-text-stroke:0.3px currentColor;">27 SEPT. <span class="th">-</span> CIRCUIT INTERDÉP.</div>
<div class="t " style="left:214.89px;top:887.00px;font-size:22.9px;letter-spacing:0.464px;color:#0a0a0a;font-style:italic;transform:scaleX(1.01);">FLEURAY-AMBOISE</div>
<div class="t " style="left:493.76px;top:851.00px;font-size:19.5px;letter-spacing:0.523px;color:#0a0a0a;transform:scaleX(1.02);">Ateliers</div>
<div class="t " style="left:498.47px;top:875.00px;font-size:19.5px;letter-spacing:0.743px;color:#0a0a0a;transform:scaleX(1.02);">9 trous</div>
<div class="t " style="left:487.08px;top:899.00px;font-size:19.5px;letter-spacing:0.681px;color:#0a0a0a;transform:scaleX(1.02);">18 trous</div>
<div class="t " style="left:82.82px;top:933.00px;font-size:22.6px;letter-spacing:0.641px;color:#0a0a0a;font-weight:700;transform:scaleX(1.04);-webkit-text-stroke:0.3px currentColor;">10 OCT. <span class="th">-</span> FINALE CIRCUITS</div>
<div class="t " style="left:410.16px;top:936.00px;font-size:27.5px;letter-spacing:3.969px;color:#0a0a0a;">**</div>
<div class="t " style="left:316.39px;top:960.00px;font-size:22.9px;letter-spacing:0.957px;color:#0a0a0a;font-style:italic;transform:scaleX(1.01);">MARCILLY</div>
<div class="t " style="left:493.76px;top:924.00px;font-size:19.5px;letter-spacing:0.523px;color:#0a0a0a;transform:scaleX(1.02);">Ateliers</div>
<div class="t " style="left:498.47px;top:948.00px;font-size:19.5px;letter-spacing:0.743px;color:#0a0a0a;transform:scaleX(1.02);">9 trous</div>
<div class="t " style="left:487.08px;top:972.00px;font-size:19.5px;letter-spacing:0.681px;color:#0a0a0a;transform:scaleX(1.02);">18 trous</div>
<div class="t " style="left:1823.67px;top:216.00px;font-size:28px;letter-spacing:5.667px;color:#fff;font-weight:700;">**</div>
<div class="t " style="left:1824.52px;top:572.00px;font-size:28px;letter-spacing:5.717px;color:#fff;font-weight:700;">**</div>
<div class="t " style="left:17.56px;top:1051.00px;font-size:23.6px;letter-spacing:-0.180px;color:#fff;font-family:'DejaVu Sans Condensed','DejaVu Sans','Liberation Sans',sans-serif;font-style:italic;">GS MP : Greensome Match Play</div>
<div class="t " style="left:371.88px;top:1051.00px;font-size:23.6px;letter-spacing:-0.376px;color:#fff;font-family:'DejaVu Sans Condensed','DejaVu Sans','Liberation Sans',sans-serif;font-style:italic;">S SM : Simple Score Max</div>
<div class="t " style="left:1306.78px;top:1051.00px;font-size:23.6px;letter-spacing:-0.117px;color:#fff;font-family:'DejaVu Sans Condensed','DejaVu Sans','Liberation Sans',sans-serif;font-style:italic;">*Sur sélection du club</div>
<div class="t " style="left:1576.38px;top:1051.00px;font-size:23.6px;letter-spacing:-0.223px;color:#fff;font-family:'DejaVu Sans Condensed','DejaVu Sans','Liberation Sans',sans-serif;font-style:italic;">**Sélection selon les résultats</div>
<div class="t " style="left:18.20px;top:16.00px;font-size:58.6px;letter-spacing:-1.713px;color:#fff;font-family:'Liberation Serif',serif;font-variant-ligatures:none;-webkit-text-stroke:0.7px #fff;">ffgolf</div>
<svg class="abs" style="left:148.3px;top:10.0px" width="24" height="24" viewBox="-12 -12 24 24"><circle cx="0" cy="0" r="9.75" fill="none" stroke="#fff" stroke-width="1.95"/><path d="M-6.4,-2.8 C-6.6,-4.4 -5.4,-5.8 -3.6,-6.1 C-2,-6.3 -0.6,-5.6 -0.2,-4.2 L0.3,-1.8 L0.9,-4.6 C1.1,-5.8 1.8,-6.5 2.6,-6.4 C3.4,-6.3 3.9,-5.6 3.7,-4.8 L3.4,-3.1 C4.6,-2 5.4,-0.6 5.3,0.6 C5.2,2 4.4,2.8 3.2,3.2 L1.6,3.7 L3.6,6.6 L2.6,6.9 L0.6,4.2 L-1.6,6.9 L-2.9,6.7 L-0.2,3.4 C-1,3.2 -1.4,2.6 -1.8,2 C-2.8,0.8 -4.6,0.6 -5.4,-0.6 C-5.9,-1.2 -6.3,-2 -6.4,-2.8 Z" fill="#fff"/></svg>
<div class="t " style="left:26.12px;top:81.00px;font-size:13.4px;letter-spacing:0.350px;color:#fff;">Comité départemental</div>
<div class="t " style="left:40.34px;top:97.00px;font-size:13.4px;letter-spacing:0.258px;color:#fff;">de l’Indre-et-Loire</div>
<div class="t " style="left:182.90px;top:15.00px;font-size:58.6px;letter-spacing:-1.733px;color:#fff;font-family:'Liberation Serif',serif;font-variant-ligatures:none;-webkit-text-stroke:0.7px #fff;">ffgolf</div>
<svg class="abs" style="left:313.7px;top:8.6px" width="24" height="24" viewBox="-12 -12 24 24"><circle cx="0" cy="0" r="9.75" fill="none" stroke="#fff" stroke-width="1.95"/><path d="M-6.4,-2.8 C-6.6,-4.4 -5.4,-5.8 -3.6,-6.1 C-2,-6.3 -0.6,-5.6 -0.2,-4.2 L0.3,-1.8 L0.9,-4.6 C1.1,-5.8 1.8,-6.5 2.6,-6.4 C3.4,-6.3 3.9,-5.6 3.7,-4.8 L3.4,-3.1 C4.6,-2 5.4,-0.6 5.3,0.6 C5.2,2 4.4,2.8 3.2,3.2 L1.6,3.7 L3.6,6.6 L2.6,6.9 L0.6,4.2 L-1.6,6.9 L-2.9,6.7 L-0.2,3.4 C-1,3.2 -1.4,2.6 -1.8,2 C-2.8,0.8 -4.6,0.6 -5.4,-0.6 C-5.9,-1.2 -6.3,-2 -6.4,-2.8 Z" fill="#fff"/></svg>
<div class="t " style="left:187.69px;top:79.00px;font-size:14px;letter-spacing:0.343px;color:#fff;">Comité départemental</div>
<div class="t " style="left:210.91px;top:95.00px;font-size:14px;letter-spacing:0.226px;color:#fff;">du Loir-et-Cher</div>
</body></html>
